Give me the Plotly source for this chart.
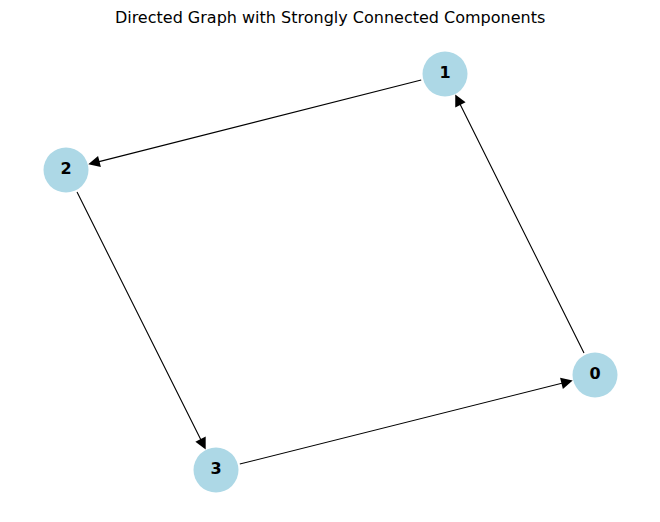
import plotly.graph_objects as go

# node layout (pixel-like coordinates)
nodes = ["0", "1", "2", "3"]
node_x = [595, 445, 66, 216]
node_y = [375, 74, 170, 470]
edges = [(0, 1), (1, 2), (2, 3), (3, 0)]

fig = go.Figure()

for s, t in edges:
    fig.add_annotation(
        x=node_x[t], y=node_y[t], ax=node_x[s], ay=node_y[s],
        xref="x", yref="y", axref="x", ayref="y",
        showarrow=True, arrowhead=2, arrowsize=2.1, arrowwidth=1.1,
        arrowcolor="black", standoff=23, startstandoff=23, text="",
    )

fig.add_trace(go.Scatter(
    x=node_x, y=node_y, mode="markers+text", text=nodes,
    textposition="middle center",
    marker=dict(size=45, color="lightblue", line=dict(width=0)),
    textfont=dict(family="DejaVu Sans", size=16, color="black", weight="bold"),
    hoverinfo="skip",
))

# page body adds an 8px offset, so shift the axis window to compensate
fig.update_layout(
    width=660, height=522, margin=dict(l=0, r=0, t=0, b=0),
    plot_bgcolor="white", paper_bgcolor="white", showlegend=False,
    title=dict(text="Directed Graph with Strongly Connected Components",
               x=0.488, y=0.982, xanchor="center", yanchor="middle",
               font=dict(family="DejaVu Sans", size=16, color="black")),
    xaxis=dict(range=[8, 668], visible=False),
    yaxis=dict(range=[530, 8], visible=False),
)

fig.write_html("out.html")
